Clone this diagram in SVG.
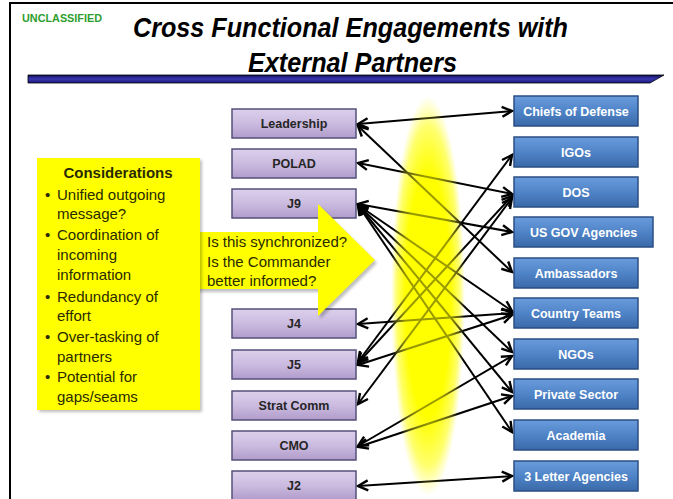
<svg xmlns="http://www.w3.org/2000/svg" width="673" height="499" viewBox="0 0 673 499">
<defs>
<linearGradient id="lav" x1="0" y1="0" x2="0" y2="1">
<stop offset="0" stop-color="#DCD0EC"/><stop offset="0.5" stop-color="#CBBBE0"/><stop offset="1" stop-color="#B09CCB"/>
</linearGradient>
<linearGradient id="blu" x1="0" y1="0" x2="0" y2="1">
<stop offset="0" stop-color="#6A9CDC"/><stop offset="0.5" stop-color="#4F84C8"/><stop offset="1" stop-color="#3A69A8"/>
</linearGradient>
<linearGradient id="bar" x1="0" y1="0" x2="0" y2="1">
<stop offset="0" stop-color="#10105A"/><stop offset="0.5" stop-color="#3A36B0"/><stop offset="1" stop-color="#1C1A7C"/>
</linearGradient>
<radialGradient id="glow" cx="0.5" cy="0.5" r="0.5">
<stop offset="0" stop-color="#FFFF00" stop-opacity="1"/>
<stop offset="0.6" stop-color="#FFFF00" stop-opacity="1"/>
<stop offset="0.85" stop-color="#FFFF30" stop-opacity="0.55"/>
<stop offset="1" stop-color="#FFFF80" stop-opacity="0"/>
</radialGradient>
<marker id="ah" markerUnits="userSpaceOnUse" markerWidth="14" markerHeight="14" refX="11" refY="6" orient="auto-start-reverse" viewBox="0 0 14 12">
<path d="M1,1 L11,6 L1,11" fill="none" stroke="#000" stroke-width="2.4" stroke-linejoin="miter"/>
</marker>
<filter id="sh" x="-10%" y="-10%" width="120%" height="120%"><feGaussianBlur stdDeviation="1.5"/></filter>
</defs>
<style>
.lb rect{fill:url(#lav);stroke:#55507A;stroke-width:1.5}
.lb text{font-family:"Liberation Sans",Arial,sans-serif;font-weight:bold;font-size:12.5px;fill:#262626;text-anchor:middle}
.rb rect{fill:url(#blu);stroke:#2A4E84;stroke-width:1.5}
.rb text{font-family:"Liberation Sans",Arial,sans-serif;font-weight:bold;font-size:12.5px;fill:#FFFFFF;text-anchor:middle}
.conn line{stroke:#000;stroke-width:2;marker-start:url(#ah);marker-end:url(#ah)}
.body{font-family:"Liberation Sans",Arial,sans-serif;font-size:15px;fill:#2A2A00}
.ttl{font-family:"Liberation Sans",Arial,sans-serif;font-weight:bold;font-style:italic;font-size:28px;fill:#000}
</style>
<rect x="0" y="0" width="673" height="499" fill="#FFFFFF"/>
<path d="M10,499 L10,3 L673,3" fill="none" stroke="#000" stroke-width="2"/>
<text x="22" y="22" font-family="Liberation Sans,Arial,sans-serif" font-weight="bold" font-size="10" fill="#2E9E2E" textLength="80" lengthAdjust="spacingAndGlyphs">UNCLASSIFIED</text>
<text class="ttl" x="133" y="37" textLength="435" lengthAdjust="spacingAndGlyphs">Cross Functional Engagements with</text>
<text class="ttl" x="248" y="72" textLength="209" lengthAdjust="spacingAndGlyphs">External Partners</text>
<polygon points="28,75 664,75 650,83 28,83" fill="url(#bar)" stroke="#000" stroke-width="0.8"/>
<ellipse cx="428" cy="296" rx="37" ry="200" fill="url(#glow)"/>
<g id="connectors" class="conn">
<line x1="358" y1="124" x2="512" y2="111"/>
<line x1="358" y1="126" x2="512" y2="272"/>
<line x1="358" y1="163" x2="512" y2="194"/>
<line x1="358" y1="204" x2="512" y2="232"/>
<line x1="358" y1="205" x2="512" y2="311"/>
<line x1="358" y1="205" x2="512" y2="352"/>
<line x1="358" y1="205" x2="512" y2="392"/>
<line x1="358" y1="205" x2="512" y2="432"/>
<line x1="358" y1="362" x2="512" y2="155"/>
<line x1="358" y1="363" x2="512" y2="196"/>
<line x1="358" y1="404" x2="512" y2="198"/>
<line x1="358" y1="324" x2="512" y2="313"/>
<line x1="358" y1="365" x2="512" y2="315"/>
<line x1="358" y1="446" x2="512" y2="356"/>
<line x1="358" y1="447" x2="512" y2="396"/>
<line x1="358" y1="486" x2="512" y2="476"/>
</g>
<ellipse cx="428" cy="296" rx="37" ry="200" fill="url(#glow)" opacity="0.6"/>
<g id="leadership" class="lb"><rect x="232" y="109" width="124" height="29"/><text x="294" y="128">Leadership</text></g>
<g id="polad" class="lb"><rect x="232" y="149" width="124" height="29"/><text x="294" y="168">POLAD</text></g>
<g id="j9" class="lb"><rect x="232" y="189" width="124" height="29"/><text x="294" y="208">J9</text></g>
<g id="j4" class="lb"><rect x="232" y="309" width="124" height="29"/><text x="294" y="328">J4</text></g>
<g id="j5" class="lb"><rect x="232" y="350" width="124" height="29"/><text x="294" y="369">J5</text></g>
<g id="stratcomm" class="lb"><rect x="232" y="391" width="124" height="29"/><text x="294" y="410">Strat Comm</text></g>
<g id="cmo" class="lb"><rect x="232" y="431" width="124" height="29"/><text x="294" y="450">CMO</text></g>
<g id="j2" class="lb"><rect x="232" y="471" width="124" height="29"/><text x="294" y="490">J2</text></g>
<g id="chiefs" class="rb"><rect x="514" y="96" width="124" height="30"/><text x="576" y="115.5">Chiefs of Defense</text></g>
<g id="igos" class="rb"><rect x="514" y="137" width="124" height="30"/><text x="576" y="156.5">IGOs</text></g>
<g id="dos" class="rb"><rect x="514" y="177" width="124" height="30"/><text x="576" y="196.5">DOS</text></g>
<g id="usgov" class="rb"><rect x="514" y="217" width="139" height="30"/><text x="583.5" y="236.5">US GOV  Agencies</text></g>
<g id="ambassadors" class="rb"><rect x="514" y="258" width="124" height="30"/><text x="576" y="277.5">Ambassadors</text></g>
<g id="countryteams" class="rb"><rect x="514" y="298" width="124" height="30"/><text x="576" y="317.5">Country Teams</text></g>
<g id="ngos" class="rb"><rect x="514" y="339" width="124" height="30"/><text x="576" y="358.5">NGOs</text></g>
<g id="privatesector" class="rb"><rect x="514" y="379" width="124" height="30"/><text x="576" y="398.5">Private Sector</text></g>
<g id="academia" class="rb"><rect x="514" y="420" width="124" height="30"/><text x="576" y="439.5">Academia</text></g>
<g id="threeletter" class="rb"><rect x="514" y="461" width="124" height="30"/><text x="576" y="480.5">3 Letter Agencies</text></g>
<g id="arrow">
<polygon points="196,235 320,235 320,207 377,263 320,319 320,292 196,292" fill="#000" opacity="0.25" filter="url(#sh)"/>
<polygon points="195,232 318,232 318,204 375,260 318,316 318,289 195,289" fill="#FFFF00"/>
<text class="body" x="207" y="247">Is this synchronized?</text>
<text class="body" x="207" y="267">Is the Commander</text>
<text class="body" x="207" y="286">better informed?</text>
</g>
<g id="considerations">
<rect x="39" y="160" width="163" height="252" fill="#000" opacity="0.25" filter="url(#sh)"/>
<rect x="37" y="158" width="163" height="252" fill="#FFFF00"/>
<text class="body" x="118" y="178" font-weight="bold" font-size="14" text-anchor="middle">Considerations</text>
<g class="body">
<text x="45" y="200">•</text><text x="57" y="200">Unified outgoing</text>
<text x="57" y="219">message?</text>
<text x="45" y="240">•</text><text x="57" y="240">Coordination of</text>
<text x="57" y="260">incoming</text>
<text x="57" y="280">information</text>
<text x="45" y="302">•</text><text x="57" y="302">Redundancy of</text>
<text x="57" y="321">effort</text>
<text x="45" y="342">•</text><text x="57" y="342">Over-tasking of</text>
<text x="57" y="362">partners</text>
<text x="45" y="382">•</text><text x="57" y="382">Potential for</text>
<text x="57" y="402">gaps/seams</text>
</g>
</g>
</svg>
